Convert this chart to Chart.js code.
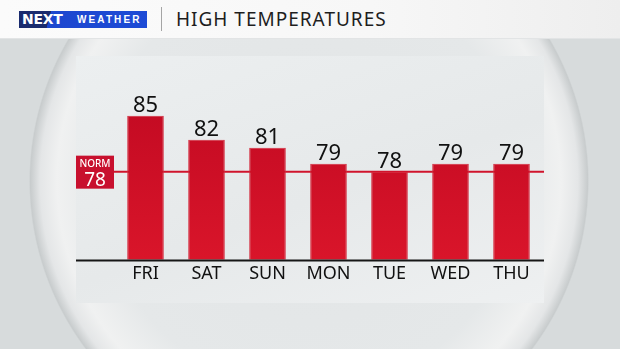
<!DOCTYPE html>
<html>
<head>
<meta charset="utf-8">
<script src="https://cdn.jsdelivr.net/npm/chart.js@4"></script>
<style>
  html, body { margin: 0; padding: 0; }
  body { width: 620px; height: 349px; overflow: hidden; position: relative; background: #d7dbdc; font-family: 'Noto Sans', sans-serif; }
  .sphere { position: absolute; left: 0; top: 0; width: 620px; height: 349px;
    background: radial-gradient(circle 280px at 309px 181px, #e2e5e6 0%, #e5e8e9 75%, #f0f1f1 90%, #e4e6e7 96%, #c8cccd 99.5%, rgba(215,219,220,0) 100%); }
  .header { position: absolute; left: 0; top: 0; width: 620px; height: 38px;
    background: linear-gradient(90deg, #fbfbfb 0%, #f7f7f7 60%, #eeeeee 100%); border-bottom: 1px solid #e2e4e5; }
  .logo { position: absolute; left: 19px; top: 11px; width: 128px; height: 17px;
    background: linear-gradient(105deg, #1a2b6e 0%, #1a2b6e 24%, #1d47cf 24.5%, #1d4bd6 100%); color: #fff; }
  .logo .next { position: absolute; left: 3px; top: 0; font: 900 14px 'DejaVu Sans', sans-serif; line-height: 17px; letter-spacing: -0.3px; }
  .logo .wx { position: absolute; left: 58px; top: 0; font: 700 10px 'Liberation Sans', sans-serif; line-height: 17px; letter-spacing: 2.1px; }
  .divider { position: absolute; left: 161px; top: 7px; width: 1px; height: 24px; background: #a5a5a5; }
  .title { position: absolute; left: 176px; top: 7px; font: 400 19px 'Noto Sans', sans-serif; color: #1e1e1e; letter-spacing: 1px; line-height: 24px; }
  .panel { position: absolute; left: 76px; top: 56px; width: 468px; height: 247px;
    background: linear-gradient(160deg, #eceff0 0%, #e6e9ea 55%, #eef0f1 100%); }
  .wrap { position: absolute; left: 0; top: 0; width: 620px; height: 349px; }
</style>
</head>
<body>
<div class="sphere"></div>
<div class="header">
  <div class="logo"><span class="next">NEXT</span><span class="wx">WEATHER</span></div>
  <div class="divider"></div>
  <div class="title">HIGH TEMPERATURES</div>
</div>
<div class="panel"></div>
<div class="wrap"><canvas id="tempChart"></canvas></div>
<script>
// data
const days = ["FRI", "SAT", "SUN", "MON", "TUE", "WED", "THU"];
const highs = [85, 82, 81, 79, 78, 79, 79];
const normalHigh = 78;
const yRange = [67, 92];

const FONT = "'Noto Sans', sans-serif";
const RED = "#c8102e";

// normal line + NORM box + axis line
const normPlugin = {
  id: "normPlugin",
  beforeDatasetsDraw(chart) {
    const { ctx, chartArea, scales } = chart;
    const y = scales.y.getPixelForValue(normalHigh);
    ctx.save();
    ctx.strokeStyle = "#d0142c";
    ctx.lineWidth = 2;
    ctx.beginPath();
    ctx.moveTo(114, y);
    ctx.lineTo(544, y);
    ctx.stroke();
    // box
    ctx.fillStyle = RED;
    ctx.fillRect(76, y - 16, 38, 33);
    ctx.fillStyle = "#fff";
    ctx.textAlign = "center";
    ctx.textBaseline = "alphabetic";
    ctx.font = "500 10px " + FONT;
    ctx.fillText("NORM", 95, y - 5);
    ctx.font = "400 19px " + FONT;
    ctx.fillText(String(normalHigh), 95, y + 14);
    ctx.restore();
  },
  afterDatasetsDraw(chart) {
    const { ctx, chartArea } = chart;
    ctx.save();
    ctx.strokeStyle = "#161616";
    ctx.lineWidth = 2;
    ctx.beginPath();
    ctx.moveTo(76, chartArea.bottom + 1);
    ctx.lineTo(544, chartArea.bottom + 1);
    ctx.stroke();
    // value labels on top of bars
    const meta = chart.getDatasetMeta(0);
    ctx.fillStyle = "#111";
    ctx.font = "400 22px " + FONT;
    ctx.textAlign = "center";
    ctx.textBaseline = "alphabetic";
    meta.data.forEach((bar, i) => {
      ctx.fillText(String(highs[i]), bar.x, bar.y - 4);
    });
    ctx.restore();
  },
};

const ctx = document.getElementById("tempChart").getContext("2d");
const tempChart = new Chart(ctx, {
  type: "bar",
  data: {
    labels: days,
    datasets: [
      {
        data: highs,
        backgroundColor(c) {
          const area = c.chart.chartArea;
          if (!area) return RED;
          const g = c.chart.ctx.createLinearGradient(0, area.top, 0, area.bottom);
          g.addColorStop(0, "#bd0720");
          g.addColorStop(1, "#d9152a");
          return g;
        },
        borderColor: "#d42a3c",
        borderWidth: 1,
        borderSkipped: "bottom",
        barPercentage: 0.6,
        categoryPercentage: 1,
      },
    ],
  },
  options: {
    responsive: true,
    maintainAspectRatio: false,
    animation: false,
    devicePixelRatio: 1,
    layout: { padding: { left: 115, right: 78, top: 60, bottom: 60 } },
    scales: {
      x: {
        grid: { display: false, drawTicks: false },
        border: { display: false },
        ticks: { color: "#111", padding: 4, font: { family: FONT, size: 18 } },
      },
      y: {
        display: false,
        min: yRange[0],
        max: yRange[1],
      },
    },
    plugins: {
      legend: { display: false },
      tooltip: { enabled: false },
    },
  },
  plugins: [normPlugin],
});
</script>
</body>
</html>
